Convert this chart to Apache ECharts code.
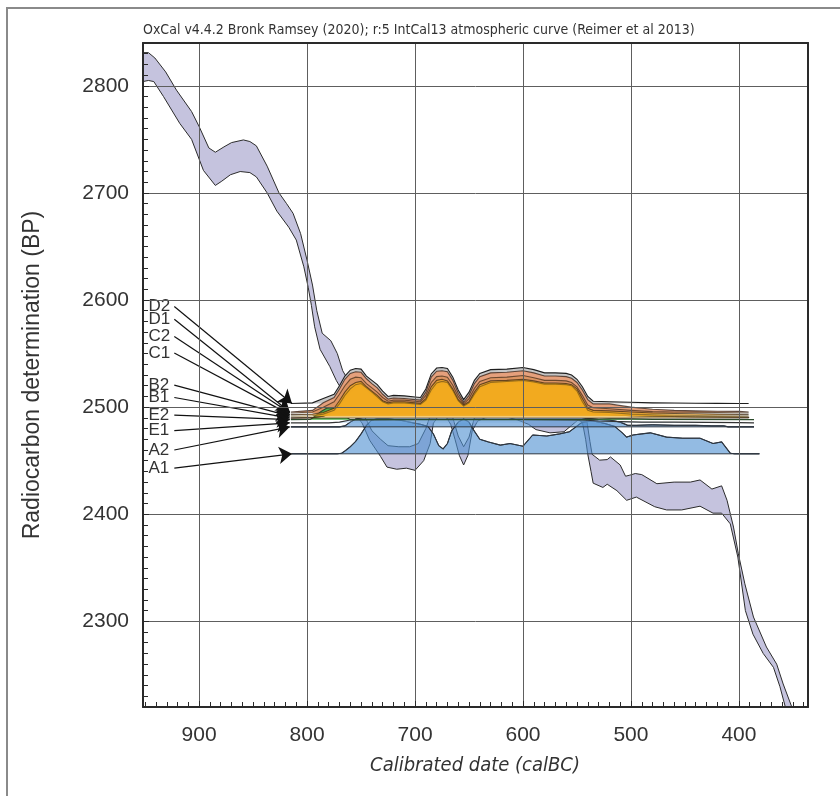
<!DOCTYPE html>
<html>
<head>
<meta charset="utf-8">
<script src="https://cdn.jsdelivr.net/npm/echarts@6/dist/echarts.min.js"></script>
<style>
  html, body { margin: 0; background: #fff; }
  #chart { width: 840px; height: 796px; }
</style>
</head>
<body>
<div id="chart"></div>
<script>
// calibration curve band (calBC, BP)
const calUpper = [[952,2831],[947,2831],[941,2826],[931,2813],[921,2796],[907,2776],[900,2762],[891,2742],[885,2738],[877,2743],[870,2747],[859,2749.5],[853,2748],[847,2744],[837,2725],[826,2700],[819,2690],[813,2681],[806,2662],[800,2637],[795,2614],[791,2590],[786,2569],[778,2562],[772,2550],[767,2534],[763,2527],[758,2515],[752,2500],[745,2488],[740,2478],[732,2470],[725,2464],[715,2463],[705,2463],[697,2466],[690,2480],[685,2495],[680,2505],[675,2508],[670,2500],[665,2490],[660,2473],[655,2463],[650,2472],[645,2490],[640,2500],[630,2505],[620,2508],[610,2505],[600,2502],[590,2498],[580,2496],[570,2495],[560,2496],[552,2496],[546,2494],[541,2488],[538,2468],[536,2456],[529,2450.5],[522,2451],[519,2453.5],[510,2446],[505,2435.5],[501,2436.5],[496,2438],[490,2437],[476,2428.5],[460,2430],[445,2430],[436,2432],[425,2423.5],[416,2426.5],[411,2413],[405,2388],[400.5,2363],[394.5,2335],[386.5,2304],[374.5,2276],[365,2260],[359,2241.5],[351,2220]];
const calLower = [[952,2804],[947,2805],[942,2804],[933,2790],[918,2765],[907,2750],[896,2721],[885,2707],[879,2711],[871,2717],[862,2720],[853,2719],[847,2715],[837,2700],[828,2683],[817,2668],[810,2656],[803,2631],[799,2612],[796,2595],[793,2575],[788,2554],[779,2538],[773,2525],[766,2513],[760,2500],[755,2493],[749,2485],[742,2469],[732,2454],[726,2444],[717,2442],[708,2443],[700,2441],[692,2450],[686,2466],[683,2485],[678,2492],[672,2492],[667,2484],[663,2470],[659,2455],[655,2446],[651,2455],[647,2478],[642,2487],[635,2490],[620,2492],[605,2488],[595,2484],[588,2479],[575,2476],[562,2477],[555,2483],[549,2488],[545,2486],[542,2470],[540,2456],[537,2440],[535,2429],[526,2425],[522,2428],[513,2422],[504,2413],[495,2416],[478,2407],[467,2404],[453,2404],[436,2407.5],[424,2401],[416,2401],[408,2391],[401,2360],[394,2310],[387,2288],[377.5,2270],[368,2257],[362,2239],[357,2220]];

// dates: names, radiocarbon value (baseline), label position, line range
const dateNames = ['D2', 'D1', 'C2', 'C1', 'B2', 'B1', 'E2', 'E1', 'A2', 'A1'];
const dateBP = [2503.4, 2495.5, 2494.5, 2493, 2491.6, 2489.8, 2488.3, 2485.3, 2481.6, 2456.4];
const labelBP = [2594, 2582, 2566, 2550.5, 2520.5, 2509, 2492.5, 2478, 2460, 2443];
const lineStart = [813, 815, 815, 815, 815, 815, 815, 815, 815, 813];
const lineEnd = [391, 391, 391, 391, 391, 391, 386, 386, 386, 381];

// calibrated distributions, drawn as tops above each baseline
const orangeYears = [815,795,785,775,770,765,760,755,750,745,740,735,730,725,720,710,700,695,690,685,680,675,670,665,660,655,650,645,640,630,615,600,590,580,570,560,555,550,545,540,535,520,500,480,460,440,420,400,391];
const topD2 = [2503.4,2504,2508,2512,2520,2529,2534.5,2536,2535.5,2529,2525,2521,2515,2510,2511,2510.5,2509.5,2509,2517,2531,2536.5,2537,2536,2528,2516,2507,2514,2525,2531.5,2535,2535.5,2537,2535,2532,2532,2531.5,2530,2526,2519,2510,2505.5,2505,2504.5,2504,2503.8,2503.6,2503.5,2503.4,2503.4];
const topD1 = [2495.5,2497,2504,2509,2517,2526,2531.5,2533,2532.5,2526.5,2522,2518,2512,2507.5,2508.5,2508,2507,2506.5,2514,2528,2533.5,2534,2533,2525,2513,2504.5,2511,2522,2528.5,2532,2532.5,2534,2532,2529,2529,2528.5,2527,2523,2516,2507,2503,2503,2500,2498,2497,2496.5,2496.2,2496,2495.5];
const topC2 = [2494.5,2495.5,2500,2505,2512,2520,2526,2528,2527.5,2522,2518,2514,2509,2505.5,2506.5,2506.5,2505.5,2505,2511,2523,2528.5,2529,2528,2520.5,2510,2503,2508,2517.5,2524,2527.5,2528,2529.5,2527.5,2525,2525,2524.5,2523,2519,2511,2502,2499.5,2498.5,2497,2495.8,2495.5,2495.3,2495,2494.8,2494.5];
const topC1 = [2493,2493.5,2495,2499,2506,2514,2520,2523,2524,2519,2515,2511,2506,2504,2505,2505,2504,2503.5,2508,2519,2525,2526,2524.5,2517,2507,2502,2505,2514,2521,2524.5,2525,2526,2524.5,2522.5,2522.5,2522,2521,2517,2508,2499,2497,2496.5,2495.5,2494.5,2494,2493.8,2493.5,2493.2,2493];
const topB2 = [2491.6,2492,2493.5,2497,2503,2511,2517,2521,2522,2518,2514,2509.5,2505,2503,2504,2504,2503,2502.5,2506.5,2516,2522.5,2524,2523,2515.5,2506,2501,2504,2512,2519,2523,2524,2525,2523.5,2521.5,2521.5,2521,2520,2515,2505,2497,2495.5,2495,2493.5,2492.8,2492.4,2492.2,2492,2491.8,2491.6];
const topB1 = [2489.8,2490.2,2491.5,2495,2500,2508,2514,2518.5,2520,2516,2512,2507.5,2504,2502,2503,2503,2502,2501.5,2505,2513,2520,2522,2521,2513.5,2505,2500,2503,2510,2517,2521.5,2522.5,2523.5,2522,2520,2520,2519.5,2518.5,2513,2503,2495,2494,2493,2492,2491.5,2491.2,2491,2490.9,2490.7,2490.5];
const e2Years = [815,797,792,787,782,777,772,767,760,545,520,500,480,386];
const topE2 = [2488.3,2488.5,2492,2496,2499,2499.5,2498,2493,2488.3,2488.3,2489.2,2489,2488.6,2488.3];
const e1Years = [815,780,770,760,700,600,545,530,510,490,460,430,400,386];
const topE1 = [2485.3,2485.3,2486,2488,2488.5,2488.5,2488,2487,2486.5,2486,2486,2485.8,2485.5,2485.3];
const a2Years = [815,770,765,760,755,745,720,700,680,660,640,600,560,550,540,530,520,510,503,495,480,460,440,425,414,410,386];
const topA2 = [2481.6,2481.6,2482.5,2486,2489,2491,2492,2492,2492.5,2492,2492.5,2492.5,2492,2491,2489.5,2488.5,2488,2486,2483,2483,2483.5,2483,2483,2482.5,2482.5,2481.6,2481.6];
const a1Years = [814,790,772,768,765,760,755,750,745,740,735,725,715,705,695,688,683,678,674,670,666,660,655,650,646,640,632,621,612,600,591,578,566,557,551,545,535,525,515,508,504,498,490,482,467,452,436,424,416,408,404,381];
const topA1 = [2456.4,2456.4,2456.4,2457,2459,2463,2468,2475,2483,2488,2489,2489,2488,2486,2484,2482,2475,2464,2461,2466,2478,2486,2489,2486,2479,2470,2467.5,2464.5,2466,2463.5,2474,2473,2475,2477,2481.6,2486,2487,2485,2482,2476,2472,2474,2475,2476,2472,2471,2471,2466,2467.5,2457,2456.4,2456.4];

const xTicks = [900, 800, 700, 600, 500, 400];
const yTicks = [2800, 2700, 2600, 2500, 2400, 2300];
const xMinor = [];
for (let v = 340; v <= 950; v += 10) xMinor.push(v);
const yMinor = [];
for (let v = 2220; v <= 2840; v += 10) yMinor.push(v);

const SANS = "'Liberation Sans', Arial, sans-serif";
const NARROW = "'Liberation Sans Narrow', 'DejaVu Sans Condensed', sans-serif";
const INK = '#2a2a2a';

const chart = echarts.init(document.getElementById('chart'));

// one calibrated distribution: fill from baseline to top, outline along the top
// (closed outline only where the baseline shows through)
function distSeries(name, years, tops, fill, z, stroke, closed) {
  const i = dateNames.indexOf(name);
  const base = dateBP[i];
  return {
    type: 'custom', name: name, z: z, silent: true,
    data: [[years[0], base]],
    renderItem: (params, api) => {
      const pts = [api.coord([lineStart[i], base])];
      years.forEach((x, k) => pts.push(api.coord([x, tops[k]])));
      pts.push(api.coord([lineEnd[i], base]));
      return {
        type: 'group',
        children: [
          { type: 'polygon', shape: { points: pts }, style: { fill: fill, stroke: closed ? (stroke || '#222') : null, lineWidth: 1 } },
          { type: 'polyline', shape: { points: pts }, style: { fill: null, stroke: stroke || '#222', lineWidth: 1.1 } }
        ]
      };
    }
  };
}

const calSeries = {
  type: 'custom', name: 'IntCal13', z: 2, silent: true,
  data: [calUpper[0]],
  renderItem: (params, api) => {
    const pts = calUpper.map(p => api.coord(p))
      .concat(calLower.slice().reverse().map(p => api.coord(p)));
    return {
      type: 'polygon',
      shape: { points: pts },
      style: { fill: '#c5c3de', stroke: '#2b2b2b', lineWidth: 1 }
    };
  }
};

const arrowSeries = {
  type: 'lines', coordinateSystem: 'cartesian2d', z: 20, silent: true,
  symbol: ['none', 'arrow'], symbolSize: [7, 13],
  lineStyle: { color: '#111', width: 1.2, opacity: 1 },
  data: dateNames.map((n, i) => ({ coords: [[923, labelBP[i]], [lineStart[i] + 1, dateBP[i]]] }))
};

const labelSeries = {
  type: 'custom', z: 21, silent: true,
  data: dateNames.map((n, i) => [947, labelBP[i]]),
  renderItem: (params, api) => {
    const p = api.coord([api.value(0), api.value(1)]);
    return {
      type: 'text', x: p[0], y: p[1],
      style: { text: dateNames[params.dataIndex], font: '17px ' + SANS, fill: '#333', textVerticalAlign: 'middle' }
    };
  }
};

const xBase = { type: 'value', min: 336, max: 952, inverse: true, z: 30 };
const yBase = { type: 'value', min: 2220, max: 2840, z: 30 };

const option = {
  animation: false,
  grid: { left: 143, right: 32, top: 43, bottom: 89 },
  xAxis: [
    Object.assign({}, xBase, {
      position: 'bottom',
      axisLine: { show: true, onZero: false, lineStyle: { color: INK, width: 2 } },
      axisTick: { show: true, inside: true, length: 6, customValues: xTicks, lineStyle: { color: INK } },
      axisLabel: { customValues: xTicks, fontSize: 21, color: '#333', margin: 18, fontFamily: SANS },
      splitLine: { show: true, lineStyle: { color: '#5e5e5e', width: 1 } }
    }),
    Object.assign({}, xBase, {
      position: 'bottom',
      axisLine: { show: false },
      axisTick: { show: true, inside: true, length: 5, customValues: xMinor, lineStyle: { color: INK } },
      axisLabel: { show: false },
      splitLine: { show: false }
    }),
    Object.assign({}, xBase, {
      position: 'top',
      axisLine: { show: true, onZero: false, lineStyle: { color: INK, width: 2 } },
      axisTick: { show: false }, axisLabel: { show: false }, splitLine: { show: false }
    })
  ],
  yAxis: [
    Object.assign({}, yBase, {
      position: 'left',
      axisLine: { show: true, onZero: false, lineStyle: { color: INK, width: 2 } },
      axisTick: { show: true, inside: true, length: 6, customValues: yTicks, lineStyle: { color: INK } },
      axisLabel: { customValues: yTicks, fontSize: 21, color: '#333', margin: 14, fontFamily: SANS, formatter: v => String(v) },
      splitLine: { show: true, lineStyle: { color: '#5e5e5e', width: 1 } }
    }),
    Object.assign({}, yBase, {
      position: 'left',
      axisLine: { show: false },
      axisTick: { show: true, inside: true, length: 5, customValues: yMinor, lineStyle: { color: INK } },
      axisLabel: { show: false },
      splitLine: { show: false }
    }),
    Object.assign({}, yBase, {
      position: 'right',
      axisLine: { show: true, onZero: false, lineStyle: { color: INK, width: 2 } },
      axisTick: { show: false }, axisLabel: { show: false }, splitLine: { show: false }
    })
  ],
  graphic: [
    { type: 'rect', shape: { x: 7, y: 8, width: 850, height: 800 }, style: { fill: 'none', stroke: '#8a8a8a', lineWidth: 2 }, silent: true },
    { type: 'text', x: 143, y: 30, style: { text: 'OxCal v4.4.2 Bronk Ramsey (2020); r:5 IntCal13 atmospheric curve (Reimer et al 2013)', font: '14px ' + NARROW, fill: '#333', textVerticalAlign: 'middle' } },
    { type: 'text', x: 33, y: 375, rotation: Math.PI / 2, style: { text: 'Radiocarbon determination (BP)', font: '23px ' + SANS, fill: '#333', textAlign: 'center', textVerticalAlign: 'middle' } },
    { type: 'text', x: 475, y: 766, style: { text: 'Calibrated date (calBC)', font: 'italic 20px ' + NARROW, fill: '#333', textAlign: 'center', textVerticalAlign: 'middle' } }
  ],
  series: [
    calSeries,
    distSeries('A1', a1Years, topA1, 'rgba(80,145,210,0.62)', 3, '#2e3640', true),
    distSeries('A2', a2Years, topA2, 'rgba(80,145,210,0.62)', 4, '#2e3640', true),
    distSeries('E1', e1Years, topE1, 'rgba(120,170,220,0.35)', 5, '#333'),
    distSeries('D2', orangeYears, topD2, '#c6c6c6', 6, '#1e1e1e'),
    distSeries('D1', orangeYears, topD1, '#e5a07c', 7, 'rgba(60,40,30,0.8)'),
    distSeries('C2', orangeYears, topC2, '#dc9462', 8, 'rgba(60,40,20,0.7)'),
    distSeries('E2', e2Years, topE2, '#4fb04c', 9, '#2a4a2a'),
    distSeries('B1', orangeYears, topB1, '#f1d69a', 10, 'rgba(60,40,20,0.7)', true),
    distSeries('C1', orangeYears, topC1, 'rgba(238,164,40,0.92)', 11, 'rgba(60,40,20,0.75)'),
    distSeries('B2', orangeYears, topB2, 'rgba(242,170,30,0.9)', 12, 'rgba(90,70,20,0.6)'),
    arrowSeries,
    labelSeries
  ]
};

chart.setOption(option);
</script>
</body>
</html>
